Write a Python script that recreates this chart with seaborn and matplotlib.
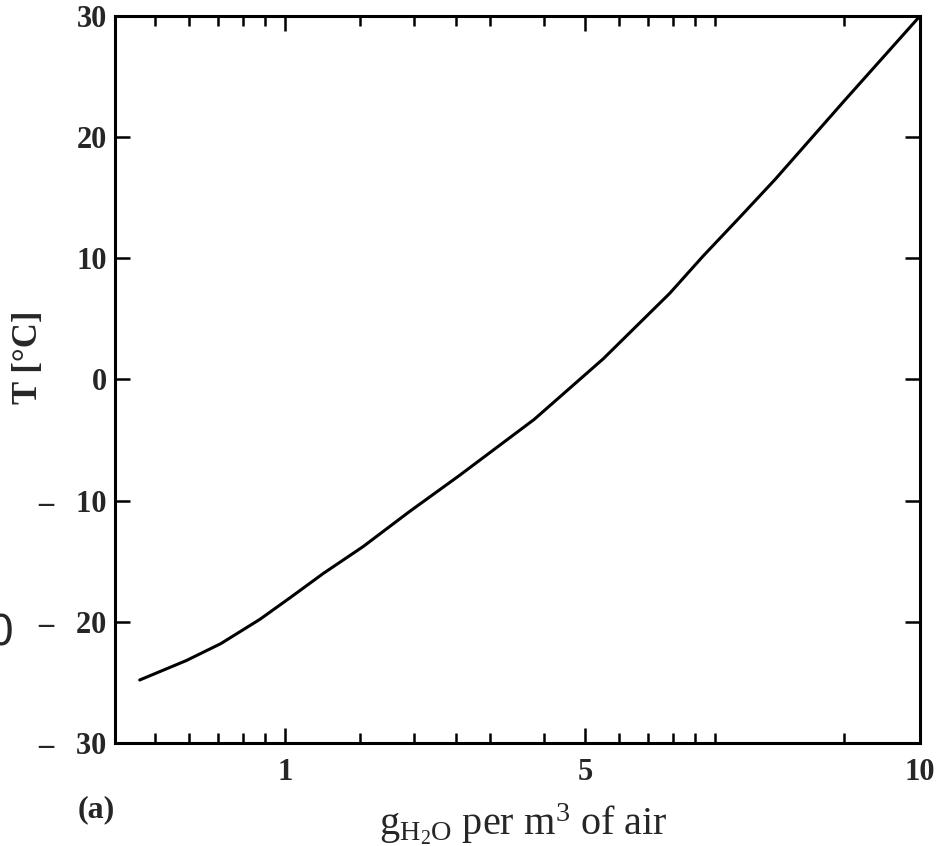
import matplotlib
matplotlib.use("Agg")
import matplotlib.pyplot as plt
import seaborn as sns
import pandas as pd
from matplotlib.ticker import FixedLocator, NullFormatter

# Saturation curve: water vapour density vs temperature
vapour_density = [0.46, 0.59, 0.71, 0.875, 1.03, 1.23, 1.52, 1.95, 2.53,
                  3.8, 5.5, 7.85, 9.4, 11.3, 13.8, 20.0, 30.0]
temperature = [-24.8, -23.2, -21.8, -19.8, -18.0, -16.0, -13.8, -10.9, -8.0,
               -3.3, 1.7, 7.1, 10.2, 13.2, 16.5, 23.0, 30.0]

x_major = [1, 5, 30]
x_major_labels = ["1", "5", "10"]
x_minor = [0.5, 0.6, 0.7, 0.8, 0.9, 1.5, 2, 2.5, 3, 4, 6, 7, 8, 9, 10, 20]

y_ticks = [30, 20, 10, 0, -10, -20, -30]
y_tick_labels = ["30", "20", "10", "0", "\u2013   10", "\u2013   20", "\u2013   30"]

df = pd.DataFrame({"rho": vapour_density, "T": temperature})

sns.set_theme(style="ticks")
plt.rcParams["font.family"] = ["Liberation Serif", "DejaVu Serif"]
plt.rcParams["mathtext.fontset"] = "custom"
plt.rcParams["mathtext.rm"] = "Liberation Serif"
plt.rcParams["mathtext.it"] = "Liberation Serif"

fig = plt.figure(figsize=(9.4, 8.46), dpi=100)
ax = fig.add_axes([115 / 940, 1 - 743 / 846, 805 / 940, 727 / 846])

sns.lineplot(data=df, x="rho", y="T", ax=ax, color="black", linewidth=2.2,
             sort=False, estimator=None)

ax.set_xscale("log")
ax.set_xlim(0.403, 30.0)
ax.set_ylim(-30, 30)

ax.xaxis.set_major_locator(FixedLocator(x_major))
ax.set_xticklabels(x_major_labels)
ax.xaxis.set_minor_locator(FixedLocator(x_minor))
ax.xaxis.set_minor_formatter(NullFormatter())
ax.set_yticks(y_ticks)
ax.set_yticklabels(y_tick_labels)

for s in ax.spines.values():
    s.set_visible(True)
    s.set_linewidth(2.2)
    s.set_color("black")

ax.tick_params(axis="both", which="both", direction="in", top=True, right=True,
               color="black", width=1.8)
ax.tick_params(axis="x", which="major", length=11, pad=11, labelsize=22)
ax.tick_params(axis="x", which="minor", length=7)
ax.tick_params(axis="y", which="major", length=11, pad=6, labelsize=22)
for lbl in ax.get_xticklabels() + ax.get_yticklabels():
    lbl.set_fontweight("bold")

ax.set_xlabel(r"g$_{\mathrm{H_2O}}$ per m$^3$ of air", fontsize=29)
ax.xaxis.label.set_va("baseline")
ax.xaxis.set_label_coords(0.507, -0.1265)
ax.set_ylabel("T [°C]", fontsize=25, fontweight="bold")
ax.yaxis.label.set_va("center")
ax.yaxis.set_label_coords(-0.108, 0.53)

fig.text(96 / 940, 1 - 810 / 846, "(a)", fontsize=23, fontweight="bold",
         ha="center", va="center")
fig.text(0.0, 1 - 633 / 846, "0", fontsize=30, ha="center", va="center",
         family="DejaVu Sans")

fig.savefig("out.png", dpi=100, facecolor="white")
